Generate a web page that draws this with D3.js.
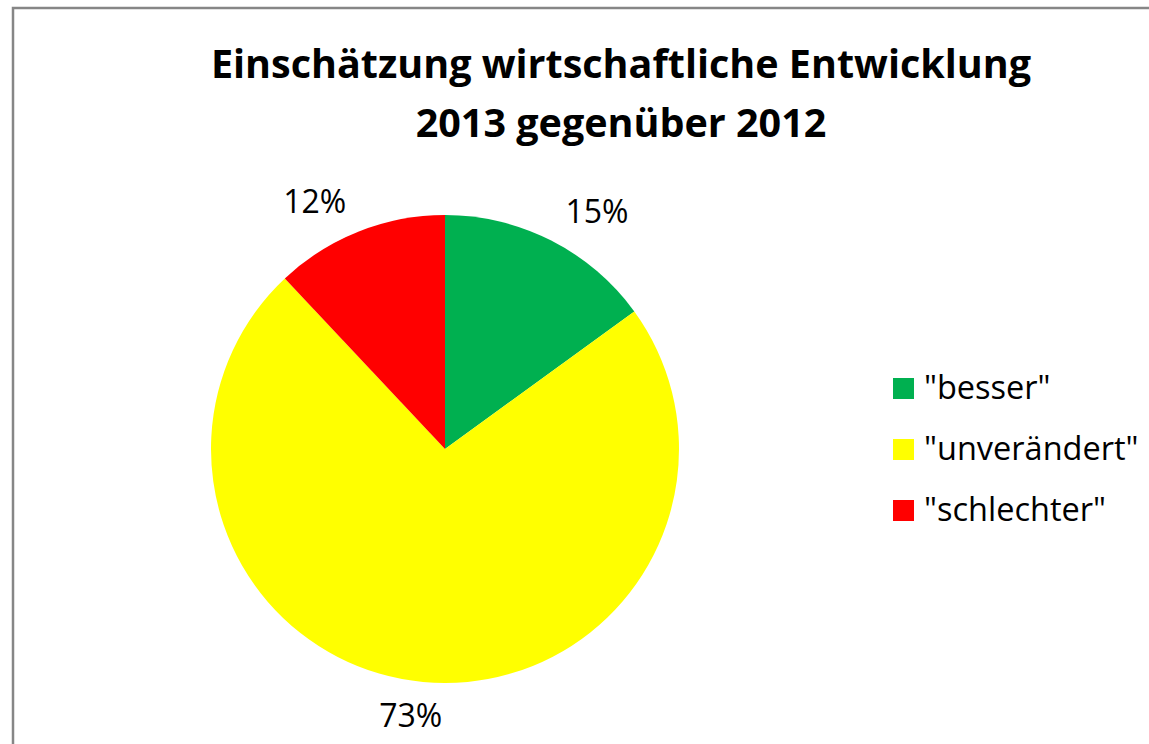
<!DOCTYPE html>
<html>
<head>
<meta charset="utf-8">
<script src="https://cdn.jsdelivr.net/npm/d3@7"></script>
<style>
  html, body { margin: 0; padding: 0; background: #ffffff; }
  svg { display: block; }
  text { font-family: "Open Sans", "Lato", "DejaVu Sans", sans-serif; fill: #000; }
</style>
</head>
<body>
<svg id="chart" width="1149" height="744"></svg>
<script>
// ---- data ----
const titleLines = ["Einschätzung wirtschaftliche Entwicklung", "2013 gegenüber 2012"];
const categories = ['"besser"', '"unverändert"', '"schlechter"'];
const values = [15, 73, 12];
const colors = ["#00B050", "#FFFF00", "#FF0000"];

// ---- layout ----
const W = 1149, H = 744;
const cx = 445, cy = 449, R = 234;

const svg = d3.select("#chart");

// chart frame (extends past right/bottom edges as in reference)
svg.append("rect")
  .attr("x", 13).attr("y", 8)
  .attr("width", W + 40).attr("height", H + 40)
  .attr("fill", "#fff")
  .attr("stroke", "#868686").attr("stroke-width", 2.5);

// title
svg.append("g").selectAll("text")
  .data(titleLines).join("text")
  .attr("x", 621)
  .attr("y", (d, i) => 78 + i * 59)
  .attr("text-anchor", "middle")
  .attr("font-weight", "bold")
  .attr("font-size", 39.5)
  .text(d => d);

// pie
const pie = d3.pie().sort(null).value(d => d);
const arcs = pie(values);
const arc = d3.arc().innerRadius(0).outerRadius(R);

const g = svg.append("g").attr("transform", `translate(${cx},${cy})`);
g.selectAll("path").data(arcs).join("path")
  .attr("d", arc)
  .attr("fill", (d, i) => colors[i]);

// data labels (outside end)
const total = d3.sum(values);
const fmt = v => Math.round(v / total * 100) + "%";
const labelFont = 32;
const labels = g.selectAll("text.lbl").data(arcs).join("text")
  .attr("class", "lbl")
  .attr("font-size", labelFont)
  .attr("text-anchor", "middle")
  .attr("dominant-baseline", "central")
  .text(d => fmt(d.value));

labels.each(function(d) {
  const a = (d.startAngle + d.endAngle) / 2;
  const ux = Math.sin(a), uy = -Math.cos(a);
  const gap = 18;
  const w = this.getComputedTextLength();
  const h = labelFont * 0.9;
  const px = ux * (R + gap), py = uy * (R + gap);
  const sx = (w / 2 + 6) * Math.max(-1, Math.min(1, ux * 3));
  const sy = (h / 2) * Math.sign(uy);
  d3.select(this).attr("x", px + sx).attr("y", py + sy);
});

// legend
const legend = svg.append("g").attr("transform", "translate(893,378)");
const rows = legend.selectAll("g").data(categories).join("g")
  .attr("transform", (d, i) => `translate(0,${i * 61})`);
rows.append("rect")
  .attr("width", 21).attr("height", 21)
  .attr("fill", (d, i) => colors[i]);
rows.append("text")
  .attr("x", 31).attr("y", 21)
  .attr("font-size", 32.5)
  .text(d => d);
</script>
</body>
</html>
